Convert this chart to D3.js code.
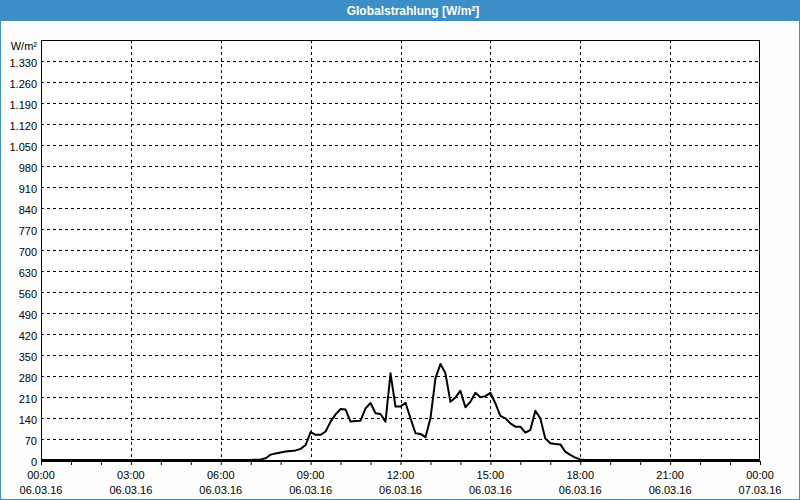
<!DOCTYPE html>
<html><head><meta charset="utf-8">
<script src="https://cdn.jsdelivr.net/npm/d3@7"></script>
<style>
html,body{margin:0;padding:0;background:#fff;}
svg{display:block;}
text{font-family:"Liberation Sans",Arial,sans-serif;font-size:11px;fill:#000;}
</style></head><body>
<svg id="c" width="800" height="500"></svg>
<script>
// Data: time of day (hours) and Globalstrahlung values [W/m²]
const times = ["00:00","07:00","07:10","07:20","07:30","07:40","07:50","08:00","08:10","08:20","08:30","08:40","08:50",
  "09:00","09:10","09:20","09:30","09:40","09:50","10:00","10:10","10:20","10:30","10:40","10:50",
  "11:00","11:10","11:20","11:30","11:40","11:50","12:00","12:10","12:20","12:30","12:40","12:50",
  "13:00","13:10","13:20","13:30","13:40","13:50","14:00","14:10","14:20","14:30","14:40","14:50",
  "15:00","15:10","15:20","15:30","15:40","15:50","16:00","16:10","16:20","16:30","16:40","16:50",
  "17:00","17:10","17:20","17:30","17:40","17:50","18:00","18:10","24:00"];
const values = [0,0,1,2,6,18,22,25,28,30,32,37,50,
  93,84,84,95,128,152,170,168,128,130,131,172,
  190,156,153,128,289,178,178,191,139,89,87,76,
  139,272,320,289,194,208,231,176,194,224,209,213,
  224,189,147,139,122,111,111,91,100,164,139,72,
  56,53,52,28,17,8,2,0,0];
const yTicks = [70,140,210,280,350,420,490,560,630,700,770,840,910,980,1050,1120,1190,1260,1330];
const xTickHours = [0,3,6,9,12,15,18,21,24];
const xTimeLabels = ["00:00","03:00","06:00","09:00","12:00","15:00","18:00","21:00","00:00"];
const xDateLabels = ["06.03.16","06.03.16","06.03.16","06.03.16","06.03.16","06.03.16","06.03.16","06.03.16","07.03.16"];
const title = "Globalstrahlung [W/m²]";
const unit = "W/m²";

const svg = d3.select("#c");
const W = 800, H = 500;
const L = 41, R = 760, T = 40, B = 460;
const blue = "#3c8fc6";

// frame
svg.append("rect").attr("x",0).attr("y",0).attr("width",W).attr("height",H).attr("fill","#fdfefd");
svg.append("rect").attr("x",0.5).attr("y",0.5).attr("width",W-1).attr("height",H-1).attr("fill","none").attr("stroke",blue);
svg.append("rect").attr("x",0).attr("y",0).attr("width",W).attr("height",21).attr("fill",blue);
svg.append("text").attr("x",413).attr("y",15).attr("text-anchor","middle")
  .style("fill","#fff").style("font-weight","bold").style("font-size","12px").text(title);

const toH = s => { const [h,m] = s.split(":").map(Number); return h + m/60; };
const x = d3.scaleLinear().domain([0,24]).range([L,R]);
const y = d3.scaleLinear().domain([0,1400]).range([B,T]);

svg.append("rect").attr("x",L).attr("y",T).attr("width",R-L).attr("height",B-T).attr("fill","#fff");

// grid
const g = svg.append("g");
g.selectAll(".hg").data(yTicks).join("line")
  .attr("x1",L).attr("x2",R).attr("y1",d=>Math.round(y(d))+0.5).attr("y2",d=>Math.round(y(d))+0.5)
  .attr("stroke","#000").attr("stroke-dasharray","3,3");
g.selectAll(".vg").data(xTickHours.slice(1,-1)).join("line")
  .attr("x1",d=>Math.round(x(d))+0.5).attr("x2",d=>Math.round(x(d))+0.5).attr("y1",T).attr("y2",B)
  .attr("stroke","#000").attr("stroke-dasharray","3,3");

// y axis labels
svg.append("g").selectAll("text").data(yTicks.concat([0])).join("text")
  .attr("x",37).attr("y",d=>Math.round(y(d))+6).attr("text-anchor","end")
  .text(d=>d3.format(",")(d).replace(/,/g,"."));
svg.append("text").attr("x",37).attr("y",50).attr("text-anchor","end").text(unit);

// x axis
const xAxis = d3.axisBottom(x).tickValues(d3.range(0,25,1)).tickSize(4).tickFormat("");
const ax = svg.append("g").attr("transform",`translate(0,${B+1})`).call(xAxis);
ax.select(".domain").remove();
ax.selectAll("line").attr("stroke","#000");
svg.selectAll(".xt").data(xTickHours).join("text")
  .attr("x",d=>x(d)).attr("y",479).attr("text-anchor","middle").text((d,i)=>xTimeLabels[i]);
svg.selectAll(".xd").data(xTickHours).join("text")
  .attr("x",d=>x(d)).attr("y",494).attr("text-anchor","middle").text((d,i)=>xDateLabels[i]);

// plot border
svg.append("rect").attr("x",L+0.5).attr("y",T+0.5).attr("width",R-L-1).attr("height",B-T)
  .attr("fill","none").attr("stroke","#000");
svg.append("line").attr("x1",L).attr("x2",R).attr("y1",B+1).attr("y2",B+1).attr("stroke","#000").attr("stroke-width",2);

// data line
const line = d3.line().x((d,i)=>x(toH(times[i]))).y(d=>y(d));
svg.append("path").datum(values).attr("d",line).attr("fill","none")
  .attr("stroke","#000").attr("stroke-width",2).attr("stroke-linejoin","round");
</script></body></html>
